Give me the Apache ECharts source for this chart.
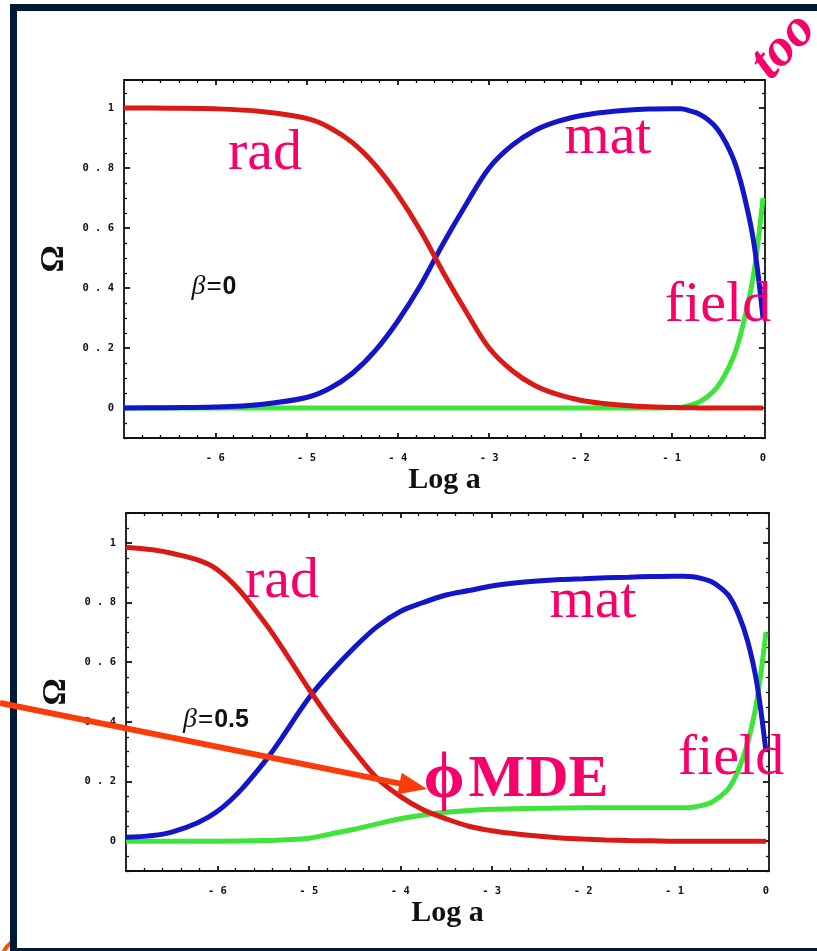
<!DOCTYPE html>
<html>
<head>
<meta charset="utf-8">
<script src="https://cdn.jsdelivr.net/npm/echarts@6/dist/echarts.min.js"></script>
<style>
  html, body { margin: 0; padding: 0; background: #ffffff; }
  #chart { width: 817px; height: 951px; }
</style>
</head>
<body>
<div id="chart"></div>
<script>
// Scale factor samples (log10 a)
const logA = [-7, -6.5, -6, -5.5, -5, -4.75, -4.5, -4.25, -4, -3.75, -3.5, -3.25, -3, -2.75, -2.5, -2.25, -2, -1.75, -1.5, -1.25, -1, -0.9, -0.8, -0.7, -0.6, -0.5, -0.4, -0.3, -0.2, -0.1, 0];

// Density parameters, beta = 0
const radB0   = [1.0, 0.999, 0.997, 0.988, 0.965, 0.935, 0.885, 0.81, 0.71, 0.59, 0.45, 0.32, 0.2, 0.125, 0.075, 0.045, 0.026, 0.015, 0.008, 0.004, 0.002, 0.001, 0.001, 0, 0, 0, 0, 0, 0, 0, 0];
const matB0   = [0, 0.001, 0.003, 0.012, 0.035, 0.065, 0.115, 0.19, 0.29, 0.41, 0.55, 0.68, 0.8, 0.875, 0.925, 0.955, 0.974, 0.985, 0.992, 0.996, 0.997, 0.997, 0.99, 0.98, 0.96, 0.93, 0.88, 0.81, 0.7, 0.55, 0.3];
const fieldB0 = [0, 0, 0, 0, 0, 0, 0, 0, 0, 0, 0, 0, 0, 0, 0, 0, 0, 0, 0, 0, 0.001, 0.002, 0.009, 0.02, 0.04, 0.07, 0.12, 0.19, 0.3, 0.45, 0.7];

// Density parameters, beta = 0.5
const radB05   = [0.985, 0.965, 0.91, 0.74, 0.51, 0.4, 0.3, 0.21, 0.15, 0.105, 0.075, 0.05, 0.035, 0.025, 0.017, 0.011, 0.007, 0.004, 0.002, 0.001, 0, 0, 0, 0, 0, 0, 0, 0, 0, 0, 0];
const matB05   = [0.013, 0.03, 0.1, 0.26, 0.48, 0.57, 0.65, 0.72, 0.77, 0.8, 0.825, 0.84, 0.855, 0.865, 0.872, 0.877, 0.88, 0.883, 0.885, 0.887, 0.888, 0.888, 0.886, 0.88, 0.87, 0.85, 0.82, 0.76, 0.67, 0.53, 0.3];
const fieldB05 = [0, 0, 0, 0.002, 0.01, 0.025, 0.04, 0.058, 0.075, 0.088, 0.097, 0.103, 0.107, 0.109, 0.11, 0.111, 0.112, 0.112, 0.112, 0.112, 0.112, 0.112, 0.114, 0.12, 0.13, 0.15, 0.18, 0.24, 0.33, 0.47, 0.7];

// Tick labels
const xTickLabels = [-6, -5, -4, -3, -2, -1, 0];
const yTickLabels = [0, 0.2, 0.4, 0.6, 0.8, 1];

const RED = '#d91a17';
const BLUE = '#1414c8';
const GREEN = '#3ee43a';
const PINK = '#f8006a';
const NAVY = '#001a36';

// minor tick positions
const xMinor = [];
for (let i = -35; i <= 0; i++) if (i % 5 !== 0) xMinor.push(+(i * 0.2).toFixed(2));
const yMinor = [];
for (let i = -2; i <= 22; i++) if (i % 4 !== 0) yMinor.push(+(i * 0.05).toFixed(2));
const xMajor = [-6, -5, -4, -3, -2, -1];

const spaced = v => String(v).split('').join(' ');
const lineBlack = { color: '#111', width: 1.8 };
const minorLine = { color: '#111', width: 1.3 };
const tickLabelStyle = {
  fontFamily: 'DejaVu Sans Mono', fontWeight: 'bold', fontSize: 10.5, color: '#111'
};

function xAxes(gi, xmax) {
  const base = { gridIndex: gi, type: 'value', min: -7, max: xmax, splitLine: { show: false } };
  return [
    Object.assign({}, base, {
      position: 'bottom',
      axisLine: { show: true, onZero: false, lineStyle: lineBlack },
      axisTick: { show: true, inside: true, length: 5, customValues: xMajor, lineStyle: lineBlack },
      axisLabel: Object.assign({ show: true, margin: 15, customValues: xTickLabels, formatter: spaced }, tickLabelStyle),
      name: 'Log a', nameLocation: 'middle', nameGap: 22,
      nameTextStyle: { fontFamily: 'Liberation Serif', fontWeight: 'bold', fontSize: 30, color: '#111' }
    }),
    Object.assign({}, base, {
      position: 'bottom',
      axisLine: { show: false, onZero: false },
      axisTick: { show: true, inside: true, length: 3, customValues: xMinor, lineStyle: minorLine },
      axisLabel: { show: false }
    }),
    Object.assign({}, base, {
      position: 'top',
      axisLine: { show: true, onZero: false, lineStyle: lineBlack },
      axisTick: { show: true, inside: true, length: 5, customValues: xMajor, lineStyle: lineBlack },
      axisLabel: { show: false }
    }),
    Object.assign({}, base, {
      position: 'top',
      axisLine: { show: false, onZero: false },
      axisTick: { show: true, inside: true, length: 3, customValues: xMinor, lineStyle: minorLine },
      axisLabel: { show: false }
    })
  ];
}

function yAxes(gi, ymax) {
  const base = { gridIndex: gi, type: 'value', min: -0.1, max: ymax, splitLine: { show: false } };
  return [
    Object.assign({}, base, {
      position: 'left',
      axisLine: { show: true, onZero: false, lineStyle: lineBlack },
      axisTick: { show: true, inside: true, length: 6, customValues: yTickLabels, lineStyle: lineBlack },
      axisLabel: Object.assign({ show: true, margin: 10, customValues: yTickLabels, formatter: spaced }, tickLabelStyle),
      name: 'Ω', nameLocation: 'middle', nameGap: 52, nameRotate: 90,
      nameTextStyle: { fontFamily: 'Liberation Serif', fontWeight: 'bold', fontSize: 34, color: '#111' }
    }),
    Object.assign({}, base, {
      position: 'left',
      axisLine: { show: false, onZero: false },
      axisTick: { show: true, inside: true, length: 3, customValues: yMinor, lineStyle: minorLine },
      axisLabel: { show: false }
    }),
    Object.assign({}, base, {
      position: 'right',
      axisLine: { show: true, onZero: false, lineStyle: lineBlack },
      axisTick: { show: true, inside: true, length: 6, customValues: yTickLabels, lineStyle: lineBlack },
      axisLabel: { show: false }
    }),
    Object.assign({}, base, {
      position: 'right',
      axisLine: { show: false, onZero: false },
      axisTick: { show: true, inside: true, length: 3, customValues: yMinor, lineStyle: minorLine },
      axisLabel: { show: false }
    })
  ];
}

function curve(name, values, color, gi) {
  return {
    name: name, type: 'line', smooth: 0.35, showSymbol: false, symbol: 'none',
    xAxisIndex: gi * 4, yAxisIndex: gi * 4,
    data: logA.map((x, i) => [x, values[i]]),
    lineStyle: { color: color, width: 5 },
    itemStyle: { color: color },
    clip: true, silent: true, animation: false
  };
}

const pinkLabel = (text, x, y, size) => ({
  type: 'text', x: x, y: y, z: 50,
  style: { text: text, fill: PINK, font: size + 'px "Liberation Serif"', align: 'center', verticalAlign: 'middle' }
});

function betaLabel(value, x, y) {
  return {
    type: 'text', x: x, y: y, z: 50,
    style: {
      text: '{b|β}{q|=}{n|' + value + '}',
      align: 'center', verticalAlign: 'middle',
      rich: {
        b: { fontFamily: 'Liberation Serif', fontStyle: 'italic', fontSize: 28, fill: '#111' },
        q: { fontFamily: 'Liberation Sans', fontSize: 26, fill: '#111', padding: [0, 1, 0, 1] },
        n: { fontFamily: 'Liberation Sans', fontWeight: 'bold', fontSize: 25, fill: '#111' }
      }
    }
  };
}

// arrow pointing at the MDE label
const arrowFrom = [0, 703];
const arrowTo = [427, 789];
const ang = Math.atan2(arrowTo[1] - arrowFrom[1], arrowTo[0] - arrowFrom[0]);
const headLen = 28, headHalf = 11;
const baseX = arrowTo[0] - headLen * Math.cos(ang), baseY = arrowTo[1] - headLen * Math.sin(ang);
const arrowHead = [
  [arrowTo[0], arrowTo[1]],
  [baseX + headHalf * Math.sin(ang), baseY - headHalf * Math.cos(ang)],
  [baseX - headHalf * Math.sin(ang), baseY + headHalf * Math.cos(ang)]
];

const chart = echarts.init(document.getElementById('chart'), null, { renderer: 'canvas' });
chart.setOption({
  backgroundColor: '#ffffff',
  animation: false,
  grid: [
    { left: 124, top: 80, width: 641, height: 358 },
    { left: 126, top: 513, width: 643, height: 358 }
  ],
  xAxis: xAxes(0, 0.022).concat(xAxes(1, 0.033)),
  yAxis: yAxes(0, 1.093).concat(yAxes(1, 1.1)),
  series: [
    curve('field', fieldB0, GREEN, 0),
    curve('mat', matB0, BLUE, 0),
    curve('rad', radB0, RED, 0),
    curve('field', fieldB05, GREEN, 1),
    curve('mat', matB05, BLUE, 1),
    curve('rad', radB05, RED, 1)
  ],
  graphic: [
    // partial circle peeking from behind the panel
    { type: 'arc', z: -20, shape: { cx: 30, cy: 966, r: 30, startAngle: Math.PI * 0.9, endAngle: Math.PI * 1.6 },
      style: { stroke: '#ff4a10', lineWidth: 4, fill: null } },
    // panel with navy border
    { type: 'rect', z: -10, shape: { x: 13.5, y: 7.5, width: 840, height: 944 },
      style: { fill: '#ffffff', stroke: NAVY, lineWidth: 7 } },
    pinkLabel('rad', 265, 154, 58),
    pinkLabel('mat', 608, 138, 58),
    pinkLabel('field', 718, 306, 58),
    betaLabel('0', 214, 287),
    pinkLabel('rad', 282, 582, 58),
    pinkLabel('mat', 593, 602, 58),
    pinkLabel('field', 731, 759, 58),
    betaLabel('0.5', 216, 720),
    {
      type: 'text', x: 516, y: 780, z: 50,
      style: {
        text: '{p|ϕ}{m|MDE}', align: 'center', verticalAlign: 'middle',
        rich: {
          p: { fontFamily: 'Liberation Serif', fontWeight: 'bold', fontSize: 66, fill: PINK, padding: [0, 4, 0, 0] },
          m: { fontFamily: 'Liberation Serif', fontWeight: 'bold', fontSize: 60, fill: PINK }
        }
      }
    },
    {
      type: 'text', x: 780, y: 90, z: 60, rotation: 0.82,
      style: { text: 'too', fill: PINK, font: 'italic bold 54px "Liberation Serif"', align: 'left', verticalAlign: 'bottom' }
    },
    {
      type: 'line', z: 70,
      shape: { x1: arrowFrom[0], y1: arrowFrom[1], x2: baseX + 2 * Math.cos(ang), y2: baseY + 2 * Math.sin(ang) },
      style: { stroke: '#fa3c0a', lineWidth: 6 }
    },
    { type: 'polygon', z: 70, shape: { points: arrowHead }, style: { fill: '#fa3c0a' } }
  ]
});
</script>
</body>
</html>
